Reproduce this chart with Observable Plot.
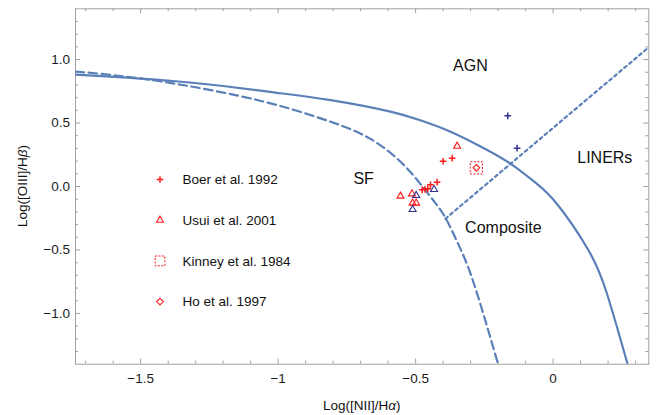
<!DOCTYPE html>
<html><head><meta charset="utf-8">
<script src="https://cdn.jsdelivr.net/npm/d3@7"></script>
<script src="https://cdn.jsdelivr.net/npm/@observablehq/plot@0.6"></script>
<style>body{margin:0;background:#fff}#chart{width:659px;height:415px}</style>
</head><body><div id="chart"></div>
<script>
// ---- curves ----
const maxStarburstX = [-1.737, -1.55, -1.373, -1.2, -1.01, -0.809, -0.592, -0.483, -0.373, -0.25, -0.155, -0.064, 0.015, 0.128, 0.196, 0.271];
const maxStarburstY = [0.882, 0.857, 0.829, 0.792, 0.740, 0.680, 0.590, 0.522, 0.432, 0.30, 0.18, 0.03, -0.14, -0.50, -0.845, -1.4];
const pureSFX = [-1.737, -1.55, -1.373, -1.2, -1.01, -0.809, -0.664, -0.555, -0.483, -0.43, -0.392, -0.35, -0.31, -0.264, -0.2];
const pureSFY = [0.906, 0.865, 0.809, 0.74, 0.645, 0.51, 0.375, 0.195, 0.021, -0.125, -0.245, -0.43, -0.63, -0.93, -1.4];
const linerX = [-0.392, 0.348];
const linerY = [-0.254, 1.097];

// ---- data points ----
const boerX = [-0.400, -0.367, -0.422, -0.446, -0.476, -0.466, -0.456, -0.165, -0.131];
const boerY = [0.199, 0.223, 0.034, 0.013, -0.026, -0.022, -0.018, 0.557, 0.302];
const boerSet = ["a", "a", "a", "a", "a", "a", "a", "b", "b"];
const usuiX = [-0.349, -0.555, -0.513, -0.511, -0.498, -0.433, -0.498, -0.511];
const usuiY = [0.317, -0.076, -0.058, -0.131, -0.131, -0.024, -0.071, -0.181];
const usuiSet = ["a", "a", "a", "a", "a", "b", "b", "b"];
const kinneyX = [-0.279];
const kinneyY = [0.147];
const hoX = [-0.279];
const hoY = [0.147];

// ---- labels ----
const regionNames = ["AGN", "SF", "LINERs", "Composite"];
const regionX = [-0.301, -0.689, 0.188, -0.181];
const regionY = [0.947, 0.061, 0.226, -0.325];
const legendNames = ["Boer et al. 1992", "Usui et al. 2001", "Kinney et al. 1984", "Ho et al. 1997"];
const xTickValues = [-1.5, -1, -0.5, 0];
const xTickLabels = ["\u22121.5", "\u22121", "\u22120.5", "0"];
const yTickValues = [-1, -0.5, 0, 0.5, 1];
const yTickLabels = ["\u22121.0", "\u22120.5", "0.0", "0.5", "1.0"];
const xDomain = [-1.737, 0.348];
const yDomain = [-1.4, 1.4];

// ---- layout / style ----
const W = 659, H = 415, mL = 75, mR = 10.7, mT = 8.3, mB = 51.3;
const innerW = W - mL - mR, innerH = H - mT - mB;
const blue = "#5b80b8", red = "#ff1a1a", navy = "#30308e", frameColor = "#a0a0a0";
const font = "'Liberation Sans', Arial, sans-serif";

const pts = (X, Y, extra) => X.map((x, i) => Object.assign({x, y: Y[i]}, extra ? {set: extra[i]} : {}));
const xMinor = d3.range(-17, 4).map(d => d / 10).filter(v => !xTickValues.some(t => Math.abs(t - v) < 1e-9));
const yMinor = d3.range(-13, 14).map(d => d / 10).filter(v => !yTickValues.some(t => Math.abs(t - v) < 1e-9));

const plot = Plot.plot({
  width: W, height: H,
  marginLeft: mL, marginRight: mR, marginTop: mT, marginBottom: mB,
  style: {fontFamily: font, fontSize: "13.5px", background: "#fff", color: "#111"},
  x: {domain: xDomain},
  y: {domain: yDomain},
  color: {domain: ["a", "b"], range: [red, navy]},
  marks: [
    // ticks on all four sides, pointing inward
    Plot.tickX(xMinor, {x: d => d, stroke: frameColor, insetTop: innerH - 3}),
    Plot.tickX(xTickValues, {x: d => d, stroke: frameColor, insetTop: innerH - 5}),
    Plot.tickX(xMinor, {x: d => d, stroke: frameColor, insetBottom: innerH - 3}),
    Plot.tickX(xTickValues, {x: d => d, stroke: frameColor, insetBottom: innerH - 5}),
    Plot.tickY(yMinor, {y: d => d, stroke: frameColor, insetRight: innerW - 3}),
    Plot.tickY(yTickValues, {y: d => d, stroke: frameColor, insetRight: innerW - 5}),
    Plot.tickY(yMinor, {y: d => d, stroke: frameColor, insetLeft: innerW - 3}),
    Plot.tickY(yTickValues, {y: d => d, stroke: frameColor, insetLeft: innerW - 5}),
    Plot.frame({stroke: frameColor}),
    Plot.axisX(xTickValues, {anchor: "bottom", tickSize: 0, tickPadding: 9.5, label: null,
      tickFormat: d => xTickLabels[xTickValues.indexOf(d)], fill: "#1a1a1a"}),
    Plot.axisY(yTickValues, {anchor: "left", tickSize: 0, tickPadding: 5.5, label: null,
      tickFormat: d => yTickLabels[yTickValues.indexOf(d)], fill: "#1a1a1a"}),
    // demarcation curves
    Plot.line(pts(maxStarburstX, maxStarburstY), {x: "x", y: "y", stroke: blue, strokeWidth: 2.2, curve: "natural", clip: "frame"}),
    Plot.line(pts(pureSFX, pureSFY), {x: "x", y: "y", stroke: blue, strokeWidth: 2.2, strokeDasharray: "8.5,4.5", curve: "natural", clip: "frame"}),
    Plot.line(pts(linerX, linerY), {x: "x", y: "y", stroke: blue, strokeWidth: 2.2, strokeDasharray: "3,3.5", clip: "frame"}),
    // data
    Plot.dot(pts(kinneyX, kinneyY), {x: "x", y: "y", symbol: "square", r: 6.9, stroke: red, strokeWidth: 1, strokeDasharray: "2,1.5", fill: "none"}),
    Plot.dot(pts(hoX, hoY), {x: "x", y: "y", symbol: "diamond2", r: 3.0, stroke: red, strokeWidth: 1.1, fill: "none"}),
    Plot.dot(pts(usuiX, usuiY, usuiSet), {x: "x", y: "y", symbol: "triangle", r: 2.6, stroke: "set", strokeWidth: 1.1, fill: "none"}),
    Plot.dot(pts(boerX, boerY, boerSet), {x: "x", y: "y", symbol: "plus", r: 2.3, stroke: "set", strokeWidth: 1.5}),
    // region labels
    Plot.text(regionNames.map((t, i) => ({t, x: regionX[i], y: regionY[i]})), {x: "x", y: "y", text: "t", fontSize: 16, fill: "#111"})
  ]
});
document.getElementById("chart").appendChild(plot);

// ---- legend and axis titles ----
const svg = d3.select(plot);
const legTop = 179.5, legGap = 40.7, legSymX = 160, legTextX = 182.5;
const legSymbols = [
  {type: d3.symbolPlus, size: 16.6, dash: null, sw: 1.5},
  {type: d3.symbolTriangle, size: 21, dash: null, sw: 1.1},
  {type: d3.symbolSquare, size: 95, dash: "2,1.5", sw: 1},
  {type: d3.symbolDiamond2, size: 28, dash: null, sw: 1.1}
];
const leg = svg.append("g").attr("font-family", font).attr("font-size", "13.5px").attr("text-anchor", "start");
legendNames.forEach((name, i) => {
  const s = legSymbols[i];
  const y = legTop + i * legGap;
  leg.append("path").attr("d", d3.symbol(s.type, s.size)()).attr("transform", `translate(${legSymX},${y})`)
    .attr("fill", "none").attr("stroke", red).attr("stroke-width", s.sw).attr("stroke-dasharray", s.dash);
  leg.append("text").attr("x", legTextX).attr("y", y).attr("dy", "0.35em").attr("fill", "#111").text(name);
});
const xl = svg.append("text").attr("x", mL + innerW / 2).attr("y", 410).attr("text-anchor", "middle")
  .attr("font-family", font).attr("font-size", "13.5px").attr("fill", "#111");
xl.append("tspan").text("Log([NII]/H");
xl.append("tspan").attr("font-style", "italic").text("\u03b1");
xl.append("tspan").text(")");
const yl = svg.append("text").attr("transform", `translate(27,${mT + innerH / 2}) rotate(-90)`).attr("text-anchor", "middle")
  .attr("font-family", font).attr("font-size", "13.5px").attr("fill", "#111");
yl.append("tspan").text("Log([OIII]/H");
yl.append("tspan").attr("font-style", "italic").text("\u03b2");
yl.append("tspan").text(")");
</script>
</body></html>
